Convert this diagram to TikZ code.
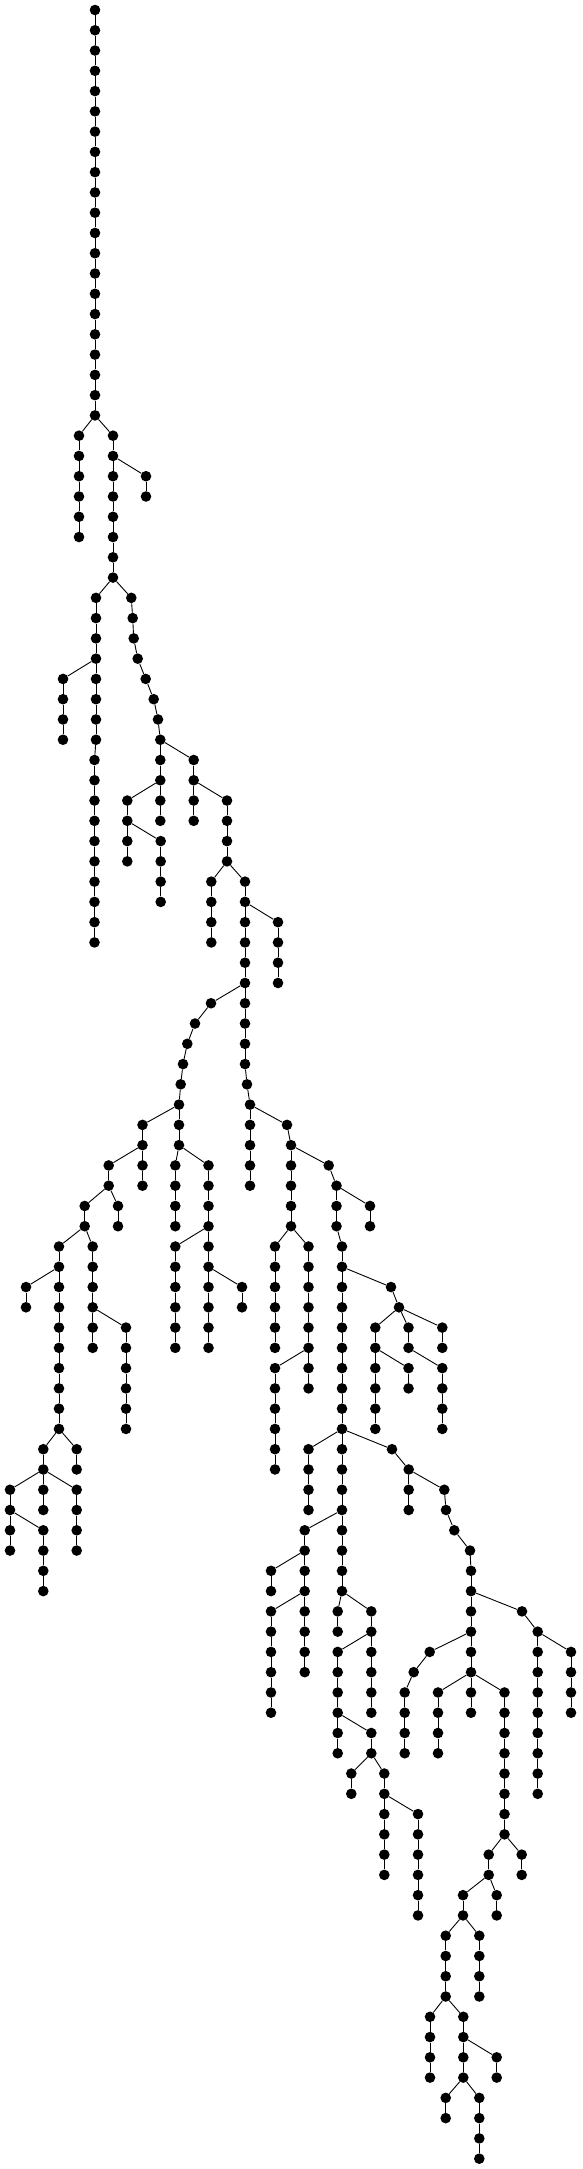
\documentclass[tikz,border=0pt]{standalone}
\tikzset{
  dot/.style={circle,fill=black,draw=none,inner sep=0pt,minimum size=10.6pt},
  edge/.style={line width=0.9pt,black}
}
\newcommand{\Ch}[5]{%
  \foreach \d in {#3,...,#4}{%
    \pgfmathtruncatemacro{\p}{\d-1}%
    \node[dot] (#1-\d) at (#2,\d) {};%
    \ifnum\d=#3\relax
      \draw[edge] (#5) -- (#1-\d);%
    \else
      \draw[edge] (#1-\p) -- (#1-\d);%
    \fi
  }%
}
\newcommand{\Pn}[4]{%
  \node[dot] (#1) at (#2,#3) {};%
  \draw[edge] (#4) -- (#1);%
}
\begin{document}
\begin{tikzpicture}[x=1pt,y=-20.27pt]
\useasboundingbox (0,-0.4933) rectangle (582,106.51);
\node[dot] (T-0) at (95,0) {};
\Ch{T}{95}{1}{20}{T-0}
\Ch{A}{79}{21}{26}{T-20}
\Ch{B}{113}{21}{28}{T-20}
\Ch{C}{146}{23}{24}{B-22}
\Ch{D}{96}{29}{36}{B-28}
\Ch{D}{94.5}{37}{46}{D-36}
\Ch{E}{63}{33}{36}{D-32}
\Pn{F-29}{131.3}{29}{B-28}
\Pn{F-30}{132.7}{30}{F-29}
\Pn{F-31}{133.7}{31}{F-30}
\Pn{F-32}{137.7}{32}{F-31}
\Pn{F-33}{145.7}{33}{F-32}
\Pn{F-34}{153.7}{34}{F-33}
\Pn{F-35}{158}{35}{F-34}
\Pn{F-36}{160.3}{36}{F-35}
\Ch{F}{160.3}{37}{40}{F-36}
\Ch{G}{127.3}{39}{42}{F-38}
\Ch{H}{160.7}{41}{44}{G-40}
\Ch{I}{193.7}{37}{40}{F-36}
\Ch{J}{227}{39}{42}{I-38}
\Ch{K}{211.3}{43}{46}{J-42}
\Ch{L}{245}{43}{52}{J-42}
\Pn{L-53}{247}{53}{L-52}
\Ch{L}{250}{54}{58}{L-53}
\Ch{M}{278}{45}{48}{L-44}
\Pn{N-49}{211}{49}{L-48}
\Pn{N-50}{195}{50}{N-49}
\Pn{N-51}{187.3}{51}{N-50}
\Pn{N-52}{183}{52}{N-51}
\Pn{N-53}{180.7}{53}{N-52}
\Ch{N}{179}{54}{56}{N-53}
\Ch{O}{142.5}{55}{58}{N-54}
\Ch{P}{108.7}{57}{58}{O-56}
\Ch{Q}{118}{59}{60}{P-58}
\Ch{R}{84.7}{59}{60}{P-58}
\Ch{S}{59}{61}{70}{R-60}
\Ch{U}{26}{63}{64}{S-62}
\Ch{V}{92.7}{61}{66}{R-60}
\Ch{W}{126}{65}{70}{V-64}
\Ch{X}{43.3}{71}{72}{S-70}
\Ch{Y}{76.7}{71}{72}{S-70}
\Ch{Za}{10}{73}{76}{X-72}
\Ch{Zb}{43.3}{75}{78}{Za-74}
\Ch{Zc}{43.3}{73}{74}{X-72}
\Ch{Zd}{76.7}{73}{76}{X-72}
\Ch{Na}{175.3}{57}{60}{N-56}
\Ch{Nb}{208.5}{57}{66}{N-56}
\Ch{Nc}{175.3}{61}{66}{Nb-60}
\Ch{Nd}{242}{63}{64}{Nb-62}
\Pn{La-55}{287}{55}{L-54}
\Ch{La}{291}{56}{60}{La-55}
\Ch{Lb}{275}{61}{66}{La-60}
\Ch{Lc}{308.5}{61}{68}{La-60}
\Ch{Ld}{275}{67}{72}{Lc-66}
\Pn{Le-57}{328.7}{57}{La-56}
\Ch{Le}{336.5}{58}{60}{Le-57}
\Ch{Le}{342}{61}{78}{Le-60}
\Ch{Lf}{370}{59}{60}{Le-58}
\Pn{Lg-63}{391}{63}{Le-62}
\Pn{Lg-64}{399}{64}{Lg-63}
\Ch{Lh}{375.3}{65}{70}{Lg-64}
\Ch{Li}{408.5}{67}{68}{Lh-66}
\Ch{Lj}{408.5}{65}{66}{Lg-64}
\Ch{Lk}{442.3}{67}{70}{Lj-66}
\Ch{Ll}{442.3}{65}{66}{Lg-64}
\Ch{Lm}{308.5}{71}{74}{Le-70}
\Pn{Ln-71}{392}{71}{Le-70}
\Ch{Ln}{408.7}{72}{74}{Ln-71}
\Pn{Lo-73}{444.3}{73}{Ln-72}
\Pn{Lo-74}{446}{74}{Lo-73}
\Pn{Lo-75}{454.3}{75}{Lo-74}
\Pn{Lo-76}{470}{76}{Lo-75}
\Ch{Lo}{471}{77}{82}{Lo-76}
\Ch{Lp}{304.7}{75}{82}{Le-74}
\Ch{Lq}{271}{77}{78}{Lp-76}
\Ch{Lr}{271}{79}{84}{Lp-78}
\Ch{Ls}{337.7}{79}{80}{Le-78}
\Ch{Lt}{371.3}{79}{84}{Le-78}
\Ch{Lu}{337.7}{81}{86}{Lt-80}
\Ch{Lv}{371.3}{85}{86}{Lu-84}
\Ch{Lw}{351.3}{87}{88}{Lv-86}
\Ch{Lx}{384.3}{87}{92}{Lv-86}
\Ch{Ly}{418}{89}{94}{Lx-88}
\Pn{Ma-79}{522}{79}{Lo-78}
\Ch{Ma}{537.7}{80}{88}{Ma-79}
\Ch{Mb}{571}{81}{84}{Ma-80}
\Pn{Mc-81}{429.7}{81}{Lo-80}
\Pn{Mc-82}{413.7}{82}{Mc-81}
\Ch{Mc}{404.7}{83}{86}{Mc-82}
\Ch{Md}{438}{83}{86}{Lo-82}
\Ch{Me}{471}{83}{84}{Lo-82}
\Ch{Mf}{504.5}{83}{90}{Lo-82}
\Ch{Mg}{521.7}{91}{92}{Mf-90}
\Ch{Mh}{488.7}{91}{92}{Mf-90}
\Ch{Mi}{463}{93}{94}{Mh-92}
\Ch{Mj}{496.7}{93}{94}{Mh-92}
\Ch{Mk}{445.7}{95}{98}{Mi-94}
\Ch{Ml}{479.3}{95}{98}{Mi-94}
\Ch{Mm}{430}{99}{102}{Mk-98}
\Ch{Mn}{463.3}{99}{102}{Mk-98}
\Ch{Mo}{496.7}{101}{102}{Mn-100}
\Ch{Mp}{445.7}{103}{104}{Mn-102}
\Ch{Mq}{479.3}{103}{106}{Mn-102}
\end{tikzpicture}
\end{document}
